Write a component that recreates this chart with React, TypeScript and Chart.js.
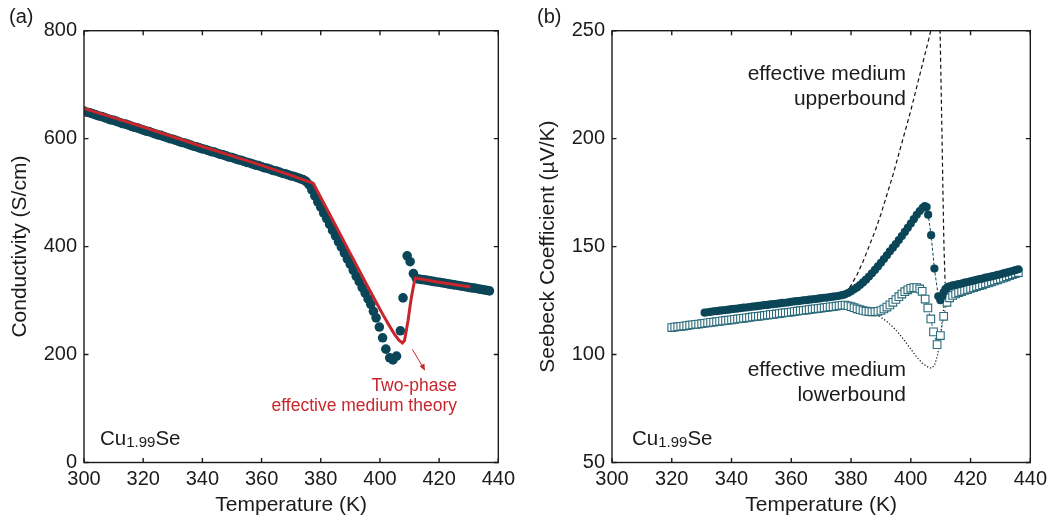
import React, { useEffect, useRef } from 'react';
import { Chart, registerables } from 'chart.js';

Chart.register(...registerables);

const FONT = '"Liberation Sans", Arial, Helvetica, sans-serif';
const INK = '#1b1b1b';
const TEAL = '#0a4657';
const TEAL_SQ = '#2a6a7a';
const RED = '#c8262c';

// ---------- Panel (a): conductivity ----------
const xTicks = [300, 320, 340, 360, 380, 400, 420, 440];
const condTicks = [0, 200, 400, 600, 800];

const condT = [
  300, 301, 302, 303, 304, 305, 306, 307, 308, 309,
  310, 311, 312, 313, 314, 315, 316, 317, 318, 319,
  320, 321, 322, 323, 324, 325, 326, 327, 328, 329,
  330, 331, 332, 333, 334, 335, 336, 337, 338, 339,
  340, 341, 342, 343, 344, 345, 346, 347, 348, 349,
  350, 351, 352, 353, 354, 355, 356, 357, 358, 359,
  360, 361, 362, 363, 364, 365, 366, 367, 368, 369,
  370, 371, 372, 373, 374, 375, 376, 377, 378, 379,
  380, 381, 382, 383, 384, 385, 386, 387, 388, 389,
  390, 391, 392, 393, 394, 395, 396, 396.9, 397.8, 398.7,
  399.8, 400.9, 402.0, 403.3, 404.4, 405.6, 406.9, 407.8, 409.2, 410.2,
  411.3, 412.3, 413, 414, 415, 416, 417, 418, 419, 420,
  421, 422, 423, 424, 425, 426, 427, 428, 429, 430,
  431, 432, 433, 434, 435, 436, 437,
];
const condV = [
  651, 649, 648, 646, 644, 642, 641, 639, 637, 635,
  634, 632, 630, 628, 627, 625, 623, 621, 620, 618,
  616, 614, 613, 611, 609, 607, 606, 604, 602, 600,
  599, 597, 595, 593, 592, 590, 588, 586, 585, 583,
  581, 580, 578, 576, 575, 573, 571, 570, 568, 566,
  565, 563, 561, 560, 558, 556, 555, 553, 551, 550,
  548, 546, 545, 543, 541, 540, 538, 536, 535, 533,
  531, 530, 528, 526, 524, 521, 515, 505, 494, 483,
  473, 462, 452, 441, 430, 420, 409, 399, 388, 377,
  367, 356, 345, 335, 324, 314, 303, 293, 280, 268,
  251, 231, 210, 194, 190, 197, 244, 305, 383, 372,
  350, 341, 340, 339, 338.5, 337.5, 336.5, 335.5, 334.5, 334,
  333, 332, 331, 330, 329, 328.5, 327.5, 326.5, 325.5, 324.5,
  323.5, 323, 322, 321, 320, 319, 318,
];

const emtT = [300, 310, 320, 330, 340, 350, 360, 370, 377.5, 380, 385, 390, 395, 399, 401, 403, 405, 406.5, 407.6, 408.3, 408.9, 409.5, 410, 410.6, 411.1, 411.6, 412.0, 420, 430.6];
const emtV = [656, 639, 621.5, 603.5, 585.5, 568, 550.5, 532, 517, 491, 439, 387, 335, 294, 274, 255, 237, 226, 221.5, 226, 244, 263, 283, 305, 320, 334, 342, 334, 325];

// ---------- Panel (b): Seebeck ----------
const seebTicks = [50, 100, 150, 200, 250];

const closedT = [
  331, 332, 333, 334, 335, 336, 337, 338, 339, 340,
  341, 342, 343, 344, 345, 346, 347, 348, 349, 350,
  351, 352, 353, 354, 355, 356, 357, 358, 359, 360,
  361, 362, 363, 364, 365, 366, 367, 368, 369, 370,
  371, 372, 373, 374, 375, 376, 377, 378, 379, 380,
  381, 382, 383, 384, 385, 386, 387, 388, 389, 390,
  391, 392, 393, 394, 395, 396, 397, 398, 399, 400,
  401, 402, 403, 404, 404.7, 405.3, 405.8, 406.8, 407.9, 409.2,
  409.9, 410.5, 411, 411.6, 412.3, 413, 414, 415, 416, 417,
  418, 419, 420, 421, 422, 423, 424, 425, 426, 427,
  428, 429, 430, 431, 432, 433, 434, 435, 436,
];
const closedV = [
  119.4, 119.6, 119.8, 120.0, 120.1, 120.3, 120.5, 120.6, 120.8, 121.0,
  121.2, 121.3, 121.5, 121.7, 121.8, 122.0, 122.2, 122.3, 122.5, 122.7,
  122.9, 123.0, 123.2, 123.4, 123.5, 123.7, 123.9, 124.0, 124.2, 124.4,
  124.6, 124.7, 124.9, 125.1, 125.2, 125.4, 125.6, 125.7, 125.9, 126.1,
  126.3, 126.4, 126.6, 126.8, 127.0, 127.2, 127.5, 127.9, 128.5, 129.3,
  130.2, 131.1, 132.2, 133.4, 134.7, 136.1, 137.6, 139.2, 140.8, 142.5,
  144.2, 146.0, 147.8, 149.5, 151.2, 153.0, 154.9, 156.8, 158.7, 160.7,
  162.7, 164.7, 166.5, 168.0, 168.8, 168.3, 164.8, 155.3, 139.8, 127.0,
  125.2, 127.0, 128.8, 130.3, 131.2, 131.6, 132.0, 132.3, 132.6, 132.9,
  133.3, 133.6, 133.9, 134.2, 134.6, 134.9, 135.2, 135.6, 135.9, 136.2,
  136.5, 136.9, 137.2, 137.6, 137.9, 138.3, 138.7, 139.1, 139.5,
];

const openT = [
  320, 321, 322, 323, 324, 325, 326, 327, 328, 329,
  330, 331, 332, 333, 334, 335, 336, 337, 338, 339,
  340, 341, 342, 343, 344, 345, 346, 347, 348, 349,
  350, 351, 352, 353, 354, 355, 356, 357, 358, 359,
  360, 361, 362, 363, 364, 365, 366, 367, 368, 369,
  370, 371, 372, 373, 374, 375, 376, 377, 378, 379,
  380, 381, 382, 383, 384, 385, 386, 387, 388, 389,
  390, 391, 392, 393, 394, 395, 396, 397, 398, 399,
  400, 401, 402, 403, 403.8, 404.8, 405.7, 406.7, 407.6, 408.8,
  409.9, 411.0, 412.1, 413, 414, 415, 416, 417, 418, 419,
  420, 421, 422, 423, 424, 425, 426, 427, 428, 429,
  430, 431, 432, 433, 434, 435, 436,
];
const openV = [
  112.5, 112.7, 112.9, 113.1, 113.2, 113.4, 113.6, 113.8, 114.0, 114.1,
  114.3, 114.5, 114.7, 114.9, 115.0, 115.2, 115.4, 115.6, 115.8, 115.9,
  116.1, 116.3, 116.5, 116.7, 116.8, 117.0, 117.2, 117.4, 117.6, 117.7,
  117.9, 118.1, 118.3, 118.5, 118.6, 118.8, 119.0, 119.2, 119.4, 119.5,
  119.7, 119.9, 120.1, 120.3, 120.4, 120.6, 120.8, 121.0, 121.2, 121.3,
  121.5, 121.7, 121.9, 122.1, 122.2, 122.4, 122.6, 122.8, 122.9, 122.6,
  122.2, 121.7, 121.2, 120.8, 120.4, 120.1, 119.9, 119.8, 119.8, 120.0,
  120.4, 121.1, 122.0, 123.0, 124.2, 125.5, 126.8, 128.0, 129.1, 130.0,
  130.7, 131.0, 131.0, 130.4, 129.3, 125.7, 121.6, 116.5, 110.5, 104.6,
  108.8, 117.7, 124.2, 126.3, 127.4, 128.1, 128.7, 129.2, 129.7, 130.1,
  130.6, 131.0, 131.5, 131.9, 132.3, 132.8, 133.2, 133.7, 134.1, 134.6,
  135.0, 135.5, 136.0, 136.5, 137.0, 137.5, 138.0,
];

const upperT = [378, 380, 382, 384, 386, 388, 390, 392, 394, 396, 398, 400, 402, 404, 406, 407, 408.3, 409.8, 410.4, 410.8, 411.1, 411.5];
const upperV = [128.5, 132, 137, 143, 150, 157, 165, 174, 183, 193, 203, 213, 224, 235, 246, 252, 262, 250, 205, 172, 150, 133];

const lowerT = [388.5, 390, 392, 394, 396, 398, 400, 402, 404, 406, 407, 408, 409, 409.9, 410.7, 411.3];
const lowerV = [118.8, 117.3, 115.3, 112.8, 109.8, 106.3, 102.5, 98.8, 95.8, 94.0, 93.7, 95.2, 100, 108.5, 117.7, 125];

const pts = (xs: number[], ys: number[]) => xs.map((x, i) => ({ x, y: ys[i] }));

const framePlugin = {
  id: 'frame',
  afterDraw(chart: any) {
    const { ctx, chartArea: a, scales } = chart;
    ctx.save();
    ctx.strokeStyle = INK;
    ctx.lineWidth = 1.4;
    ctx.strokeRect(a.left, a.top, a.right - a.left, a.bottom - a.top);
    const L = 4.5;
    ctx.beginPath();
    scales.x.ticks.forEach((t: any) => {
      const px = scales.x.getPixelForValue(t.value);
      ctx.moveTo(px, a.bottom);
      ctx.lineTo(px, a.bottom - L);
      ctx.moveTo(px, a.top);
      ctx.lineTo(px, a.top + L);
    });
    scales.y.ticks.forEach((t: any) => {
      const py = scales.y.getPixelForValue(t.value);
      ctx.moveTo(a.left, py);
      ctx.lineTo(a.left + L, py);
      ctx.moveTo(a.right, py);
      ctx.lineTo(a.right - L, py);
    });
    ctx.stroke();
    ctx.restore();
  },
};

function makeOptions(yMin: number, yMax: number, yStep: number, yTicks: number[], yTitle: string, yWidth: number, yTitlePad: number, padRight: number) {
  return {
    responsive: false,
    maintainAspectRatio: false,
    animation: false,
    events: [],
    layout: { padding: { top: 30.7, right: padRight, bottom: 0, left: 0 } },
    plugins: { legend: { display: false }, tooltip: { enabled: false } },
    scales: {
      x: {
        type: 'linear',
        min: xTicks[0],
        max: xTicks[xTicks.length - 1],
        afterBuildTicks: (s: any) => { s.ticks = xTicks.map((v) => ({ value: v })); },
        afterFit: (s: any) => { s.height = 519 - 462.5; },
        grid: { display: false, drawTicks: false },
        border: { display: false },
        ticks: { color: INK, font: { family: FONT, size: 20 }, padding: 5, maxRotation: 0, autoSkip: false },
        title: { display: true, text: 'Temperature (K)', color: INK, font: { family: FONT, size: 21 }, padding: { top: 0, bottom: 1.5 } },
      },
      y: {
        type: 'linear',
        min: yMin,
        max: yMax,
        afterBuildTicks: (s: any) => { s.ticks = yTicks.map((v) => ({ value: v })); },
        afterFit: (s: any) => { s.width = yWidth; },
        grid: { display: false, drawTicks: false },
        border: { display: false },
        ticks: { color: INK, font: { family: FONT, size: 20 }, padding: 7, autoSkip: false, stepSize: yStep },
        title: { display: true, text: yTitle, color: INK, font: { family: FONT, size: 21 }, padding: { top: yTitlePad, bottom: 0 } },
      },
    },
  };
}

function ChartCanvas({ config, width, height, left }: any) {
  const ref = useRef<HTMLCanvasElement | null>(null);
  useEffect(() => {
    if (!ref.current) return;
    const chart = new Chart(ref.current, config);
    return () => chart.destroy();
  }, []);
  return (
    <canvas
      ref={ref}
      width={width}
      height={height}
      style={{ position: 'absolute', left, top: 0, width, height }}
    />
  );
}

const configA: any = {
  type: 'scatter',
  data: {
    datasets: [
      {
        label: 'Two-phase effective medium theory',
        data: pts(emtT, emtV),
        showLine: true,
        borderColor: RED,
        borderWidth: 3,
        pointRadius: 0,
        tension: 0,
      },
      {
        label: 'Conductivity',
        data: pts(condT, condV),
        showLine: false,
        pointRadius: 4.8,
        pointBackgroundColor: TEAL,
        pointBorderWidth: 0,
        borderColor: TEAL,
      },
    ],
  },
  options: makeOptions(0, 800, 200, condTicks, 'Conductivity (S/cm)', 84, 7.4, 17),
  plugins: [framePlugin],
};

const configB: any = {
  type: 'scatter',
  data: {
    datasets: [
      {
        label: 'closed',
        data: pts(closedT, closedV),
        showLine: true,
        borderColor: TEAL,
        borderWidth: 1,
        borderDash: [3, 2],
        pointRadius: 4.1,
        pointBackgroundColor: TEAL,
        pointBorderWidth: 0,
      },
      {
        label: 'open',
        data: pts(openT, openV),
        showLine: true,
        borderColor: TEAL_SQ,
        borderWidth: 1,
        borderDash: [3, 2],
        pointStyle: 'rect',
        pointRadius: 5.4,
        pointBackgroundColor: '#ffffff',
        pointBorderColor: TEAL_SQ,
        pointBorderWidth: 1.1,
      },
      {
        label: 'effective medium upperbound',
        data: pts(upperT, upperV),
        showLine: true,
        borderColor: '#111',
        borderWidth: 1.2,
        borderDash: [4, 3],
        pointRadius: 0,
      },
      {
        label: 'effective medium lowerbound',
        data: pts(lowerT, lowerV),
        showLine: true,
        borderColor: '#111',
        borderWidth: 1.2,
        borderDash: [1.2, 2],
        pointRadius: 0,
      },
    ],
  },
  options: makeOptions(50, 250, 50, seebTicks, 'Seebeck Coefficient (\u00b5V/K)', 92, 16, 21),
  plugins: [framePlugin],
};

const txt = (extra: any) => ({
  position: 'absolute' as const,
  lineHeight: 1,
  whiteSpace: 'nowrap' as const,
  ...extra,
});

function Formula({ left, top }: { left: number; top: number }) {
  return (
    <div style={txt({ left, top, fontSize: 20.5, transform: 'translateY(-50%)' })}>
      Cu<span style={{ fontSize: 15, verticalAlign: -2 }}>1.99</span>Se
    </div>
  );
}

export default function App() {
  return (
    <div
      style={{
        position: 'fixed',
        left: 0,
        top: 0,
        width: 1052,
        height: 519,
        background: '#ffffff',
        fontFamily: FONT,
        color: INK,
        overflow: 'hidden',
      }}
    >
      <ChartCanvas config={configA} width={520} height={519} left={0} />
      <ChartCanvas config={configB} width={532} height={519} left={520} />

      <div style={txt({ left: 9, top: 16, fontSize: 20, transform: 'translateY(-50%)' })}>(a)</div>
      <div style={txt({ left: 537, top: 16, fontSize: 20, transform: 'translateY(-50%)' })}>(b)</div>

      <Formula left={100} top={438} />
      <Formula left={632} top={438} />

      <div style={txt({ right: 1052 - 457, top: 386, fontSize: 17.5, color: RED, transform: 'translateY(-50%)', textAlign: 'right' })}>Two-phase</div>
      <div style={txt({ right: 1052 - 457, top: 406, fontSize: 17.5, color: RED, transform: 'translateY(-50%)', textAlign: 'right' })}>effective medium theory</div>

      <div style={txt({ right: 1052 - 906, top: 72, fontSize: 21, transform: 'translateY(-50%)', textAlign: 'right' })}>effective medium</div>
      <div style={txt({ right: 1052 - 906, top: 97, fontSize: 21, transform: 'translateY(-50%)', textAlign: 'right' })}>upperbound</div>
      <div style={txt({ right: 1052 - 906, top: 368, fontSize: 21, transform: 'translateY(-50%)', textAlign: 'right' })}>effective medium</div>
      <div style={txt({ right: 1052 - 906, top: 393, fontSize: 21, transform: 'translateY(-50%)', textAlign: 'right' })}>lowerbound</div>

      <svg width={1052} height={519} style={{ position: 'absolute', left: 0, top: 0, pointerEvents: 'none' }}>
        <line x1={412.3} y1={349.3} x2={424.2} y2={369.3} stroke={RED} strokeWidth={1} />
        <path d="M 425 370.7 L 419.6 366.2 L 424.4 363.4 Z" fill={RED} />
      </svg>
    </div>
  );
}
